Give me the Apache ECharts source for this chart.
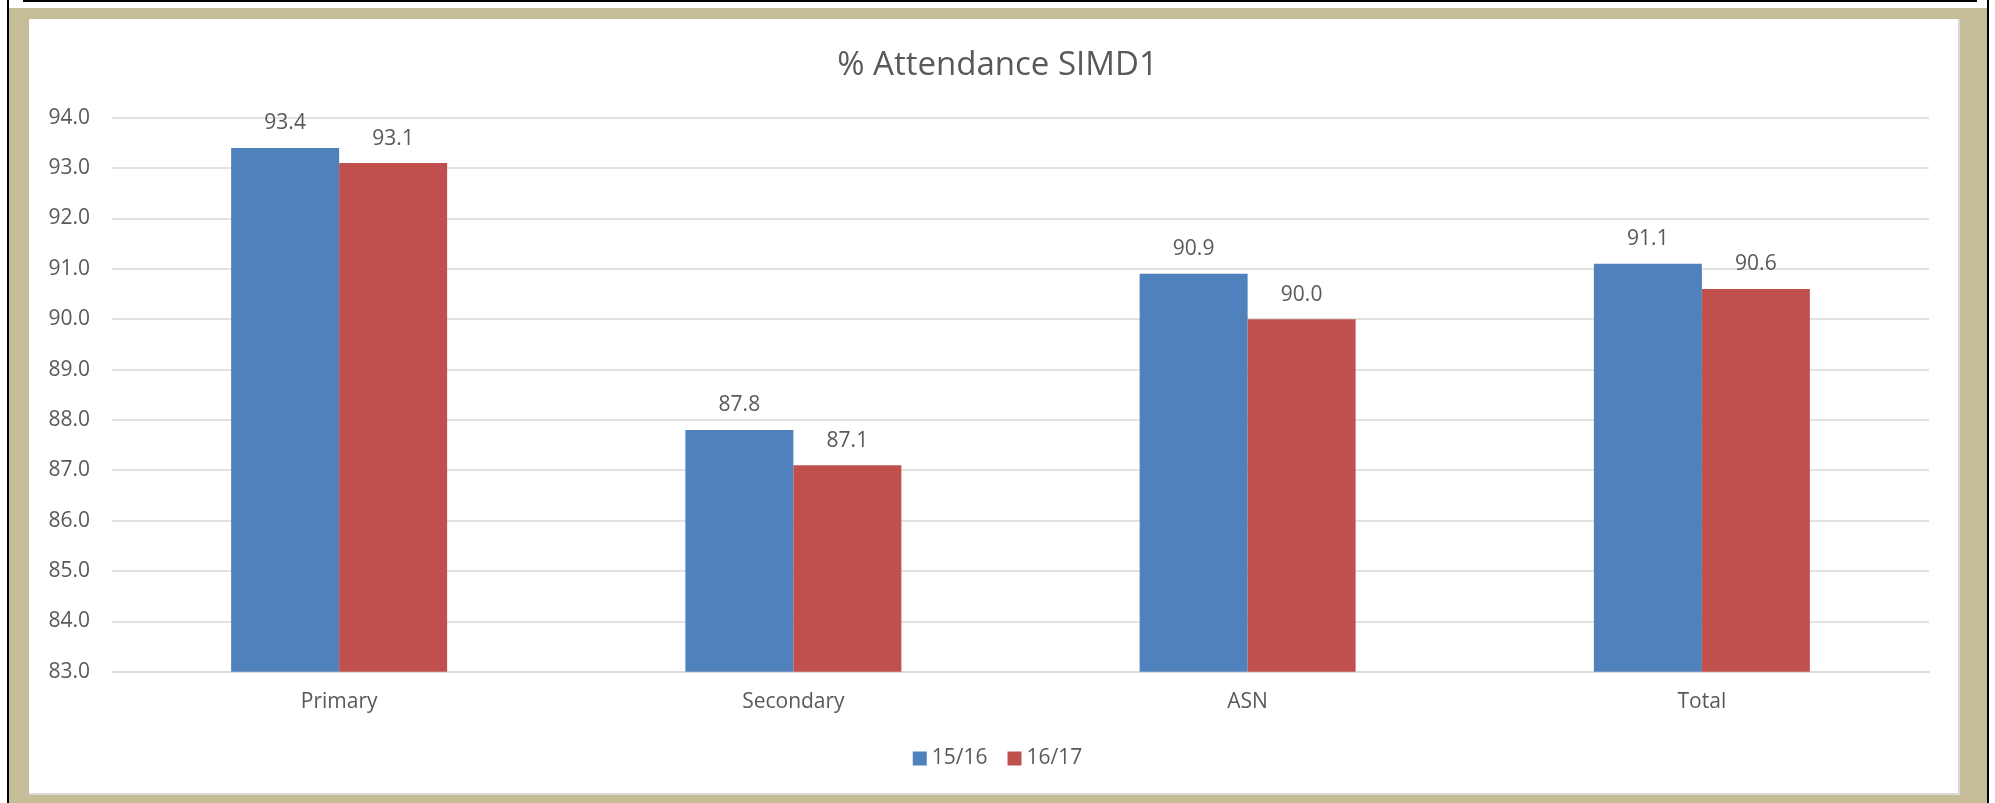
<!DOCTYPE html>
<html>
<head>
<meta charset="utf-8">
<script src="https://cdn.jsdelivr.net/npm/echarts@6/dist/echarts.min.js"></script>
<style>
  html, body { margin: 0; padding: 0; background: #ffffff; }
  #wrap { position: relative; width: 1995px; height: 803px; overflow: hidden; }
  .abs { position: absolute; }
  #chart { position: absolute; left: 0; top: 0; width: 1995px; height: 803px; }
</style>
</head>
<body>
<div id="wrap">
  <div class="abs" style="left:7px;top:0;width:2px;height:803px;background:#000;"></div>
  <div class="abs" style="left:1987px;top:0;width:2px;height:803px;background:#000;"></div>
  <div class="abs" style="left:23px;top:0;width:1954px;height:2px;background:#000;"></div>
  <div class="abs" style="left:9px;top:8px;width:1978px;height:795px;background:#C4BD97;"></div>
  <div class="abs" style="left:29px;top:19px;width:1929px;height:774px;background:#ffffff;box-shadow:1px 1px 0 1px #D9D9D9;"></div>
  <div id="chart"></div>
</div>
<script>
const categories = ['Primary', 'Secondary', 'ASN', 'Total'];
const seriesNames = ['15/16', '16/17'];
const values1516 = [93.4, 87.8, 90.9, 91.1];
const values1617 = [93.1, 87.1, 90.0, 90.6];
const yMin = 83, yMax = 94, yInterval = 1;

const textColor = '#595959';
const fontFamily = '"Open Sans", "Noto Sans", sans-serif';

const chart = echarts.init(document.getElementById('chart'), null, { renderer: 'canvas' });
chart.setOption({
  backgroundColor: 'transparent',
  animation: false,
  title: {
    text: '% Attendance SIMD1',
    left: 'center',
    top: 49,
    padding: [0, 10, 0, 0],
    textStyle: { color: textColor, fontFamily: fontFamily, fontSize: 33, fontWeight: 'normal' }
  },
  legend: {
    data: seriesNames,
    left: 'center',
    top: 743,
    itemWidth: 14,
    itemHeight: 14,
    itemGap: 20,
    icon: 'rect',
    textStyle: { color: textColor, fontFamily: fontFamily, fontSize: 21 }
  },
  grid: { left: 112, right: 66, top: 117.7, bottom: 131.3, containLabel: false },
  xAxis: {
    type: 'category',
    data: categories,
    axisLine: { show: true, lineStyle: { color: '#D9D9D9', width: 1.5 } },
    axisTick: { show: false },
    axisLabel: { color: textColor, fontFamily: fontFamily, fontSize: 21, margin: 20 }
  },
  yAxis: {
    type: 'value',
    min: yMin,
    max: yMax,
    interval: yInterval,
    axisLine: { show: false },
    axisTick: { show: false },
    splitLine: { show: true, lineStyle: { color: '#D9D9D9', width: 1.5 } },
    axisLabel: {
      color: textColor, fontFamily: fontFamily, fontSize: 21, margin: 22,
      formatter: v => v.toFixed(1)
    }
  },
  series: [
    {
      name: seriesNames[0],
      type: 'bar',
      data: values1516,
      barWidth: 108,
      barGap: '0%',
      itemStyle: { color: '#4F81BD' },
      label: {
        show: true, position: 'top', distance: 14,
        color: textColor, fontFamily: fontFamily, fontSize: 21,
        formatter: p => p.value.toFixed(1)
      }
    },
    {
      name: seriesNames[1],
      type: 'bar',
      data: values1617,
      barWidth: 108,
      barGap: '0%',
      itemStyle: { color: '#C0504D' },
      label: {
        show: true, position: 'top', distance: 14,
        color: textColor, fontFamily: fontFamily, fontSize: 21,
        formatter: p => p.value.toFixed(1)
      }
    }
  ]
});
</script>
</body>
</html>
